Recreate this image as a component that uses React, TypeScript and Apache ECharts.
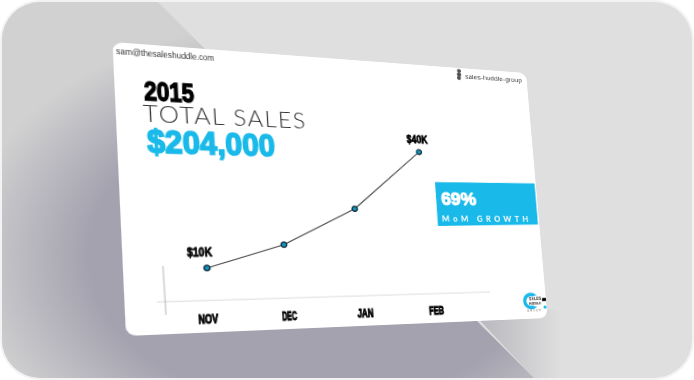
import React, { useEffect, useRef } from "react";
import * as echarts from "echarts";

const months = ["NOV", "DEC", "JAN", "FEB"];
const salesK = [10, 15.5, 24.6, 40];
const pointLabels = ["$10K", "", "", "$40K"];

const W = 430;
const H = 290;
const Q = [[112.5, 42], [526, 73], [547.5, 318], [126, 336]];

function homography() {
  const [[x0, y0], [x1, y1], [x2, y2], [x3, y3]] = Q;
  const dx1 = x1 - x2, dx2 = x3 - x2, sx = x0 - x1 + x2 - x3;
  const dy1 = y1 - y2, dy2 = y3 - y2, sy = y0 - y1 + y2 - y3;
  const den = dx1 * dy2 - dx2 * dy1;
  const g = (sx * dy2 - dx2 * sy) / den;
  const h = (dx1 * sy - sx * dy1) / den;
  return {
    a: (x1 - x0 + g * x1) / W, b: (x3 - x0 + h * x3) / H, c: x0,
    d: (y1 - y0 + g * y1) / W, e: (y3 - y0 + h * y3) / H, f: y0,
    g: g / W, h: h / H,
  };
}
const M = homography();
const cssMatrix = `matrix3d(${[M.a, M.d, 0, M.g, M.b, M.e, 0, M.h, 0, 0, 1, 0, M.c, M.f, 0, 1].join(",")})`;
function un(X: number, Y: number): [number, number] {
  const p = M.a - M.g * X, q = M.b - M.h * X, r = X - M.c;
  const s = M.d - M.g * Y, t = M.e - M.h * Y, w = Y - M.f;
  const det = p * t - q * s;
  return [(r * t - q * w) / det, (p * w - r * s) / det];
}
function flatLen(X1: number, Y1: number, X2: number, Y2: number) {
  const a = un(X1, Y1), b = un(X2, Y2);
  return Math.hypot(a[0] - b[0], a[1] - b[1]);
}

const HEAVY = "'Liberation Sans',sans-serif";
const CYAN = "#19b9e9";

function txt(text: string, X: number, Y: number, size: number, fill: string, family: string, weight: any = 400, thick = 0) {
  const [x, y] = un(X, Y);
  return {
    type: "text", x, y, silent: true,
    style: {
      text, fill, fontSize: size, fontFamily: family, fontWeight: weight,
      verticalAlign: "middle",
      stroke: thick ? fill : undefined, lineWidth: thick,
    },
  };
}
function ln(a: [number, number], b: [number, number], stroke: string, w: number) {
  const p = un(a[0], a[1]), q = un(b[0], b[1]);
  return { type: "line", silent: true, shape: { x1: p[0], y1: p[1], x2: q[0], y2: q[1] }, style: { stroke, lineWidth: w } };
}
function circ(X: number, Y: number, r: number, fill: string) {
  const [cx, cy] = un(X, Y);
  return { type: "circle", silent: true, shape: { cx, cy, r }, style: { fill } };
}

export default function App() {
  const ref = useRef<HTMLDivElement>(null);
  useEffect(() => {
    const chart = echarts.init(ref.current!, null, { renderer: "svg", width: W, height: H });
    const p0 = un(207, 268);
    const p3 = un(419, 152);
    const unit = (p0[1] - p3[1]) / 30;
    const y0 = p0[1] + 10 * unit;
    const lab0 = un(208, 312);
    const lab3 = un(436, 303);
    const boxPts = [[435, 182], [534.5, 183.5], [538, 224.5], [438, 226]].map(([a, b]) => un(a, b));
    const ringC = un(531, 301);
    const flagPts = [[542, 298], [546.5, 298], [546.5, 301], [542, 301]].map(([a, b]) => un(a, b));
    chart.setOption({
      animation: false,
      grid: [
        { left: p0[0], right: W - p3[0], top: y0 - 50 * unit, height: 50 * unit },
        { left: lab0[0], right: W - lab3[0], top: lab0[1] - 20, height: 20 },
      ],
      xAxis: [
        { type: "category", gridIndex: 0, data: months, boundaryGap: false, show: false },
        {
          type: "category", gridIndex: 1, data: months, boundaryGap: false,
          axisLine: { show: false }, axisTick: { show: false },
          axisLabel: {
            margin: 0, fontFamily: HEAVY, fontWeight: "bold", fontSize: 13, color: "#000",
            textBorderColor: "#000", textBorderWidth: 1, interval: 0, verticalAlign: "top",
            alignMinLabel: "center", alignMaxLabel: "center",
          },
        },
      ],
      yAxis: [
        { type: "value", gridIndex: 0, min: 0, max: 50, show: false },
        { type: "value", gridIndex: 1, min: 0, max: 1, show: false },
      ],
      series: [
        {
          type: "line", xAxisIndex: 0, yAxisIndex: 0, data: salesK.map((v, i) => ({
            value: v,
            label: {
              show: !!pointLabels[i], formatter: pointLabels[i], position: "top",
              offset: i === 0 ? [-6, -1] : [-1, 0],
              fontFamily: HEAVY, fontWeight: "bold", fontSize: 12, color: "#000",
              textBorderColor: "#000", textBorderWidth: 0.8,
            },
          })),
          symbol: "circle", symbolSize: 5.5, silent: true,
          lineStyle: { color: "#444", width: 1.1 },
          itemStyle: { color: "#1593bd", borderColor: "#12303f", borderWidth: 1.4 },
        },
      ],
      graphic: [
        ln([157, 302], [490, 292], "#dcdcdc", 1.2),
        ln([163, 266], [166, 315], "#b5b5b5", 0.9),
        txt("sam@thesaleshuddle.com", 116, 51, 9, "#333", HEAVY),
        txt("2015", 144, 90.5, 27, "#000", HEAVY, "bold", 1.4),
        txt("TOTAL SALES", 143, 113, 23, "#333", "Lato", 300),
        txt("$204,000", 147, 141, 33, CYAN, HEAVY, "bold", 1.7),
        { type: "polygon", silent: true, shape: { points: boxPts }, style: { fill: CYAN } },
        txt("69%", 441, 198, 21, "#fff", HEAVY, "bold", 1.2),
        txt("MoM GROWTH", 442, 218, 9, "#fff", "Lato", 700),
        circ(459, 71, 2.3, "#555"), circ(459, 74.5, 2.6, "#555"), circ(459, 78, 2.3, "#555"),
        txt("sales-huddle-group", 465, 76.5, 8, "#444", HEAVY),
        { type: "ring", silent: true, shape: { cx: ringC[0], cy: ringC[1], r: 9.5, r0: 5.5 }, style: { fill: CYAN } },
        circ(536, 301, 6.5, "#fff"),
        txt("SALES", 529, 298.5, 5.5, "#222", HEAVY, "bold"),
        txt("HUDDLE", 529, 304, 4, "#222", HEAVY, "bold"),
        txt("GROUP", 527, 311, 3, "#666", HEAVY),
        { type: "polygon", silent: true, shape: { points: flagPts }, style: { fill: "#000" } },
        circ(545, 307, 1.8, CYAN),
      ],
    });
    const lengths: Record<string, [number, string]> = {
      "sam@thesaleshuddle.com": [flatLen(116, 51, 214, 57), "spacingAndGlyphs"],
      "2015": [flatLen(144, 90, 194, 92), "spacingAndGlyphs"],
      "TOTAL SALES": [flatLen(143, 113, 305, 120), "spacing"],
      "$204,000": [flatLen(147, 141, 275, 146), "spacingAndGlyphs"],
      "69%": [flatLen(441, 198, 476, 198), "spacingAndGlyphs"],
      "MoM GROWTH": [flatLen(442, 218, 528, 218), "spacing"],
      "$10K": [flatLen(189, 254, 214, 254), "spacingAndGlyphs"],
      "$40K": [flatLen(407, 141, 428, 142), "spacingAndGlyphs"],
      "NOV": [flatLen(198, 319, 218, 319), "spacingAndGlyphs"],
      "DEC": [flatLen(281, 315, 296, 315), "spacingAndGlyphs"],
      "JAN": [flatLen(357, 313, 373, 313), "spacingAndGlyphs"],
      "FEB": [flatLen(429, 310, 444, 310), "spacingAndGlyphs"],
      "SALES": [flatLen(529, 298, 541, 298), "spacingAndGlyphs"],
      "HUDDLE": [flatLen(529, 304, 541, 304), "spacingAndGlyphs"],
      "GROUP": [flatLen(527, 311, 541, 311), "spacing"],
    };
    ref.current!.querySelectorAll("text").forEach((t) => {
      const k = (t.textContent || "").trim();
      if (lengths[k]) {
        t.setAttribute("textLength", String(lengths[k][0]));
        t.setAttribute("lengthAdjust", lengths[k][1]);
      }
    });
    return () => chart.dispose();
  }, []);

  return (
    <div style={{ position: "fixed", left: 0, top: 0, width: 694, height: 380, background: "#fff", overflow: "hidden" }}>
      <div style={{ position: "absolute", inset: 0, borderRadius: 40, background: "#f3f3f3", overflow: "hidden" }}>
        <div style={{ position: "absolute", left: 2, top: 2, width: 690, height: 376, borderRadius: 38, background: "#dfdfdf", overflow: "hidden" }}>
          <div style={{
            position: "absolute", left: -2, top: -2, width: 694, height: 380,
            clipPath: "polygon(470px 310px, 565px 310px, 565px 380px, 536px 380px)",
            background: "linear-gradient(90deg, #b3b3ba 470px, #dfdfdf 562px)",
          }} />
          <div style={{
            position: "absolute", left: -2, top: -2, width: 694, height: 380,
            clipPath: "polygon(0 0, 156px 0, 536px 380px, 0 380px)",
            background: "radial-gradient(ellipse 365px 245px at 315px 255px, #a4a2af 62%, #d1d1d1 97%)",
          }} />
        </div>
      </div>
      <div style={{
        position: "absolute", left: 0, top: 0, width: W, height: H, background: "#fff", borderRadius: 9,
        transformOrigin: "0 0", transform: cssMatrix, overflow: "hidden", filter: "blur(0.35px)",
      }}>
        <div ref={ref} style={{ width: W, height: H }} />
      </div>
    </div>
  );
}
